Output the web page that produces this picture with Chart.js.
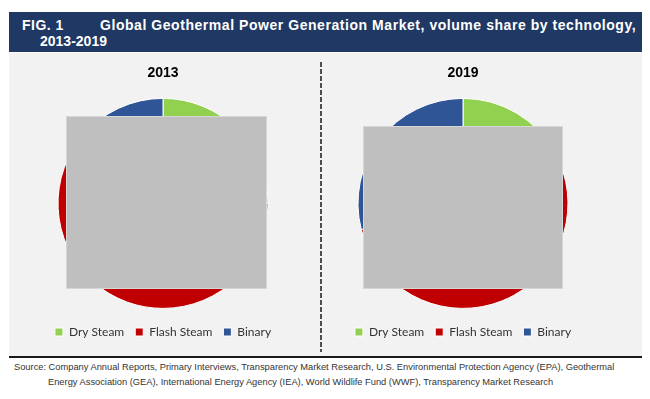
<!DOCTYPE html>
<html>
<head>
<meta charset="utf-8">
<script src="https://cdn.jsdelivr.net/npm/chart.js@4.4.0/dist/chart.umd.min.js"></script>
<style>
  body { margin: 0; background: #fff; width: 650px; height: 399px; position: relative; overflow: hidden; font-family: "Liberation Sans", Arial, sans-serif; }
  .abs { position: absolute; }
  #header { left: 9px; top: 12px; width: 633px; height: 40px; background: #1F3864; color: #fff; font-weight: bold; font-size: 14px; }
  #panel { left: 9px; top: 53px; width: 633px; height: 303px; background: #F2F2F2; border-bottom: 2px solid #1a1a1a; }
  #divider { left: 320px; top: 62px; width: 2px; height: 290px;
    background: repeating-linear-gradient(to bottom, #4d4d4d 0 5px, transparent 5px 7px); }
  .mask { background: #BFBFBF; border: 1px solid #d6d6d6; box-sizing: border-box; }
  .src { font-size: 9.3px; color: #333; white-space: nowrap; }
</style>
</head>
<body>
<div id="header" class="abs">
  <span class="abs" style="left:13px;top:5px;letter-spacing:0.5px;">FIG. 1</span>
  <span class="abs" style="left:91px;top:5px;letter-spacing:0.55px;">Global Geothermal Power Generation Market, volume share by technology,</span>
  <span class="abs" style="left:31px;top:21px;">2013-2019</span>
</div>
<div id="panel" class="abs"></div>
<div id="divider" class="abs"></div>
<canvas id="pie2013" class="abs" style="left:13px;top:61px;" width="300" height="287"></canvas>
<canvas id="pie2019" class="abs" style="left:313px;top:61px;" width="300" height="287"></canvas>
<div class="abs mask" style="left:66px;top:116px;width:201px;height:173px;"></div>
<div class="abs mask" style="left:363px;top:126px;width:200px;height:163px;"></div>
<div class="abs src" style="left:14px;top:362px;">Source: Company Annual Reports, Primary Interviews, Transparency Market Research, U.S. Environmental Protection Agency (EPA), Geothermal</div>
<div class="abs src" style="left:48px;top:377px;">Energy Association (GEA), International Energy Agency (IEA), World Wildlife Fund (WWF), Transparency Market Research</div>
<script>
// data
const technologies = ['Dry Steam', 'Flash Steam', 'Binary'];
const share2013 = [25, 61, 14];
const share2019 = [17, 54, 29];
const techColors = ['#92D050', '#C00000', '#2F5597'];

function make_pie(canvasId, year, values) {
    const ctx = document.querySelector('#' + canvasId).getContext('2d');
    const config = {
        type: 'pie',
        data: {
            labels: technologies,
            datasets: [{
                data: values,
                backgroundColor: techColors,
                borderColor: '#ffffff',
                borderWidth: 1,
                radius: 105
            }]
        },
        options: {
            responsive: false,
            animation: false,
            plugins: {
                title: {
                    display: true,
                    text: year,
                    color: '#000',
                    font: { family: 'Liberation Sans', size: 14, weight: 'bold' },
                    padding: { top: 4, bottom: 10 }
                },
                legend: {
                    position: 'bottom',
                    labels: {
                        boxWidth: 8,
                        boxHeight: 8,
                        padding: 11,
                        color: '#333',
                        font: { family: 'Lato', size: 12 }
                    }
                },
                tooltip: { enabled: false }
            }
        }
    };
    return new Chart(ctx, config);
}

make_pie('pie2013', '2013', share2013);
make_pie('pie2019', '2019', share2019);
</script>
</body>
</html>
